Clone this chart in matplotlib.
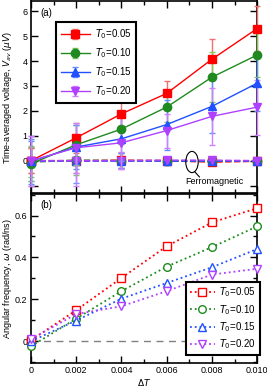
import matplotlib
matplotlib.use("Agg")
import matplotlib.pyplot as plt
from matplotlib.patches import Ellipse
from matplotlib.ticker import MultipleLocator

# temperature difference (x axis, both panels)
dT = [0.0, 0.002, 0.004, 0.006, 0.008, 0.010]
labels = [r"$\mathit{T_0}$=0.05", r"$\mathit{T_0}$=0.10",
          r"$\mathit{T_0}$=0.15", r"$\mathit{T_0}$=0.20"]

# panel (a): time-averaged voltage (uV)
v_005 = [0.0, 0.92, 1.88, 2.70, 4.07, 5.30]
v_010 = [-0.12, 0.64, 1.27, 2.15, 3.35, 4.24]
v_015 = [-0.02, 0.55, 0.88, 1.45, 2.18, 3.11]
v_020 = [0.0, 0.52, 0.72, 1.21, 1.78, 2.15]
e_005 = [0.5, 0.6, 0.5, 0.5, 0.8, 0.9]
e_010 = [0.7, 0.8, 0.6, 0.6, 1.0, 0.9]
e_015 = [0.9, 0.9, 0.9, 1.0, 1.06, 1.1]
e_020 = [1.0, 1.0, 1.04, 0.68, 1.13, 1.1]

# ferromagnetic case, stays around zero
f_005 = [0.0, 0.0, 0.02, 0.0, -0.05, -0.02]
f_010 = [-0.05, 0.02, 0.0, 0.0, -0.02, 0.0]
f_015 = [0.0, 0.0, 0.0, 0.0, 0.0, 0.0]
f_020 = [0.0, 0.0, 0.0, 0.02, 0.02, 0.0]
fe_005 = [0.5, 0.5, 0.3, 0.1, 0.1, 0.1]
fe_010 = [0.6, 0.6, 0.3, 0.1, 0.1, 0.1]
fe_015 = [0.8, 0.9, 0.3, 0.1, 0.1, 0.1]
fe_020 = [1.0, 1.0, 0.35, 0.1, 0.1, 0.1]

# panel (b): angular frequency (rad/ns)
w_005 = [0.005, 0.148, 0.302, 0.453, 0.567, 0.635]
w_010 = [-0.024, 0.108, 0.239, 0.356, 0.449, 0.548]
w_015 = [0.0, 0.099, 0.203, 0.278, 0.353, 0.440]
w_020 = [0.01, 0.130, 0.167, 0.239, 0.318, 0.346]

colors = ["#ff0000", "#1f8a1f", "#2050ff", "#b040ff"]
ecolors = ["#f07070", "#80c860", "#6090ff", "#d080ff"]
markers = ["s", "o", "^", "v"]

plt.rcParams["font.family"] = ["Liberation Sans", "DejaVu Sans"]
plt.rcParams["font.size"] = 6.5

fig = plt.figure(figsize=(2.67, 3.91), dpi=100)
ax1 = fig.add_axes([0.116, 0.506, 0.847, 0.491])
ax2 = fig.add_axes([0.116, 0.072, 0.847, 0.432])

# --- panel (a)
vals = [v_005, v_010, v_015, v_020]
errs = [e_005, e_010, e_015, e_020]
fvals = [f_005, f_010, f_015, f_020]
ferrs = [fe_005, fe_010, fe_015, fe_020]
for i in range(4):
    ax1.errorbar(dT, fvals[i], yerr=ferrs[i], color=colors[i], ecolor=ecolors[i],
                 marker=markers[i], markersize=6, ls="--", lw=1.2, capsize=2,
                 elinewidth=1, clip_on=False, zorder=3)
for i in range(4):
    ax1.errorbar(dT, vals[i], yerr=errs[i], color=colors[i], ecolor=ecolors[i],
                 marker=markers[i], markersize=6, lw=1, capsize=2, elinewidth=1,
                 label=labels[i], clip_on=False, zorder=4)

ax1.set_xlim(0, 0.010)
ax1.set_ylim(-1.3, 6.4)
ax1.set_yticks(range(-1, 7))
ax1.set_yticklabels([""] + [str(k) for k in range(7)])
ax1.xaxis.set_major_locator(MultipleLocator(0.002))
ax1.xaxis.set_minor_locator(MultipleLocator(0.001))
ax1.set_xticklabels([])
ax1.set_ylabel(r"Time-averaged voltage, $V_{av}$ ($\mu V$)")
ax1.yaxis.set_label_coords(-0.075, 0.5)
ax1.text(0.04, 0.965, "(a)", transform=ax1.transAxes, va="top", fontsize=7)

ell = Ellipse((0.00712, -0.05), 0.00055, 0.85, fill=False, ec="black", lw=0.8, zorder=6)
ax1.add_patch(ell)
ax1.plot([0.00725, 0.00745], [-0.45, -0.65], color="black", lw=0.8, zorder=6)
ax1.text(0.0081, -0.83, "Ferromagnetic", ha="center", va="center", fontsize=6.5, zorder=6)

leg1 = ax1.legend(loc="upper left", bbox_to_anchor=(0.11, 0.89), fontsize=7,
                  fancybox=False, edgecolor="black", framealpha=1,
                  handlelength=3, borderpad=0.5, labelspacing=0.55,
                  handletextpad=0.5, borderaxespad=0)
leg1.get_frame().set_linewidth(1.5)

# --- panel (b)
ax2.axhline(0, color="gray", ls="--", lw=1, dashes=(5, 4), zorder=1)
wvals = [w_005, w_010, w_015, w_020]
for i in range(4):
    ax2.plot(dT, wvals[i], color=colors[i], marker=markers[i], mfc="white",
             mec=colors[i], mew=1, markersize=5.5, ls=":", lw=1.3,
             label=labels[i], clip_on=False, zorder=3)

ax2.set_xlim(0, 0.010)
ax2.set_ylim(-0.103, 0.703)
ax2.set_yticks([0, 0.2, 0.4, 0.6])
ax2.set_yticklabels(["0", "0.2", "0.4", "0.6"])
ax2.yaxis.set_minor_locator(MultipleLocator(0.1))
ax2.xaxis.set_minor_locator(MultipleLocator(0.001))
ax2.set_xticks(dT)
ax2.set_xticklabels(["0", "0.002", "0.004", "0.006", "0.008", "0.010"])
ax2.set_xlabel(r"$\Delta T$", labelpad=1)
ax2.set_ylabel(r"Angular frequency, $\omega$ (rad/ns)")
ax2.yaxis.set_label_coords(-0.075, 0.5)
ax2.text(0.04, 0.965, "(b)", transform=ax2.transAxes, va="top", fontsize=7)

leg2 = ax2.legend(loc="lower right", bbox_to_anchor=(1.02, 0.035), fontsize=7,
                  fancybox=False, edgecolor="black", framealpha=1,
                  handlelength=2.6, borderpad=0.4, labelspacing=0.35,
                  handletextpad=0.4, borderaxespad=0.2)
leg2.get_frame().set_linewidth(1.5)
leg2.set_zorder(10)

for ax in (ax1, ax2):
    ax.tick_params(which="both", direction="in", top=True, right=True, width=1)
    ax.tick_params(which="major", length=5, pad=2.5)
    ax.tick_params(which="minor", length=3)
    for s in ax.spines.values():
        s.set_linewidth(1.2)

fig.savefig("out.png", dpi=100)
